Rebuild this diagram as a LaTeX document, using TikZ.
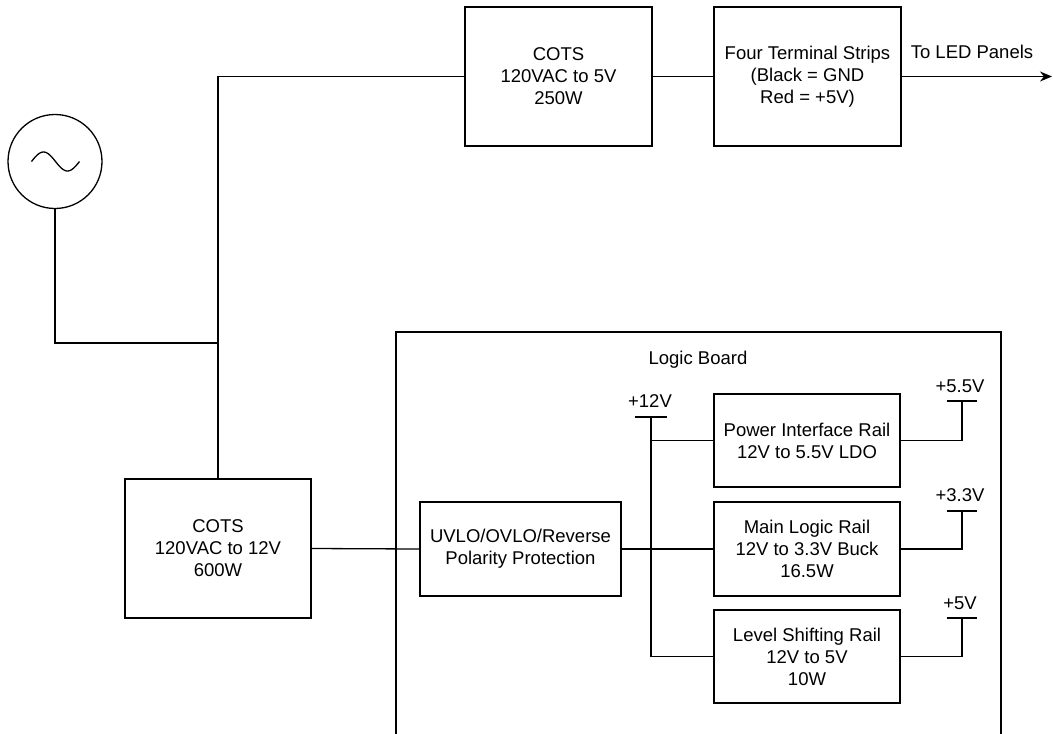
\documentclass[tikz,border=0pt]{standalone}
\usepackage{fontspec}
\setmainfont{Liberation Sans}
\usetikzlibrary{arrows.meta}
\tikzset{
  blk/.style={draw, line width=1.3pt, minimum width=187pt, minimum height=139pt, align=center, inner sep=0pt, font=\fontsize{18.5}{22}\selectfont},
  rail/.style={blk, minimum width=186pt, minimum height=93pt},
  wire/.style={line width=1.3pt},
  lbl/.style={font=\fontsize{18.5}{22}\selectfont, inner sep=0pt},
  railbar/.style={line width=1.3pt}
}
\begin{document}
\begin{tikzpicture}[x=1pt,y=-1pt]
\useasboundingbox (0,0) rectangle (1053,734);
% AC source
\node[draw, circle, line width=1.3pt, minimum size=94pt, inner sep=0pt] (src) at (55,161.5) {};
\draw[line width=1.3pt] plot[domain=0:360, samples=60, smooth] ({31.5+\x/360*48},{161.5-9.5*sin(\x)});
% boxes
\node[blk] (cots5) at (558.5,76.5) {COTS\\120VAC to 5V\\250W};
\node[blk] (term) at (807.5,76.5) {Four Terminal Strips\\(Black = GND\\Red = +5V)};
\node[blk, minimum width=186pt] (cots12) at (218,548.5) {COTS\\120VAC to 12V\\600W};
% logic board
\draw[wire] (396,745) -- (396,332) -- (1001,332) -- (1001,745);
\node[lbl] (lbtitle) at (698,360) {Logic Board};
\node[rail, minimum width=201pt, minimum height=94pt] (uvlo) at (520.5,549) {UVLO/OVLO/Reverse\\Polarity Protection};
\node[rail] (pwr) at (807,440.5) {Power Interface Rail\\12V to 5.5V LDO};
\node[rail, minimum height=94pt] (main) at (807,549) {Main Logic Rail\\12V to 3.3V Buck\\16.5W};
\node[rail] (lvl) at (807,656.5) {Level Shifting Rail\\12V to 5V\\10W};
% AC wiring
\coordinate (j1) at (218,343);
\draw[wire] (src.south) |- (j1);
\draw[wire] (cots12.north) -- (j1) |- (cots5.west);
\draw[wire] (cots5.east) -- (term.west);
\coordinate (led) at (1052,76.5);
\draw[wire, -{Stealth[length=12pt,width=10pt]}] (term.east) -- (led);
\node[lbl] (ledlbl) at (972,52) {To LED Panels};
% 12 V distribution
\draw[wire] (cots12.east) -- (uvlo.west);
\draw[wire] (uvlo.east) -- (main.west);
\coordinate (v12) at (651,417);
\draw[railbar] ([xshift=-16pt]v12) -- ([xshift=16pt]v12);
\node[lbl] (v12lbl) at (650,401) {+12V};
\draw[wire] (v12) -- (v12 |- lvl.west) -- (lvl.west);
\draw[wire] (v12 |- pwr.west) -- (pwr.west);
% outputs
\coordinate (o55) at (962,401);
\coordinate (o33) at (962,511);
\coordinate (o5) at (962,618);
\foreach \c in {o55,o33,o5} {\draw[railbar] ([xshift=-15pt]\c) -- ([xshift=15pt]\c);}
\draw[wire] (pwr.east) -| (o55);
\draw[wire] (main.east) -| (o33);
\draw[wire] (lvl.east) -| (o5);
\node[lbl] (o55lbl) at (960,386) {+5.5V};
\node[lbl] (o33lbl) at (960,495) {+3.3V};
\node[lbl] (o5lbl) at (960,603) {+5V};
\end{tikzpicture}
\end{document}
